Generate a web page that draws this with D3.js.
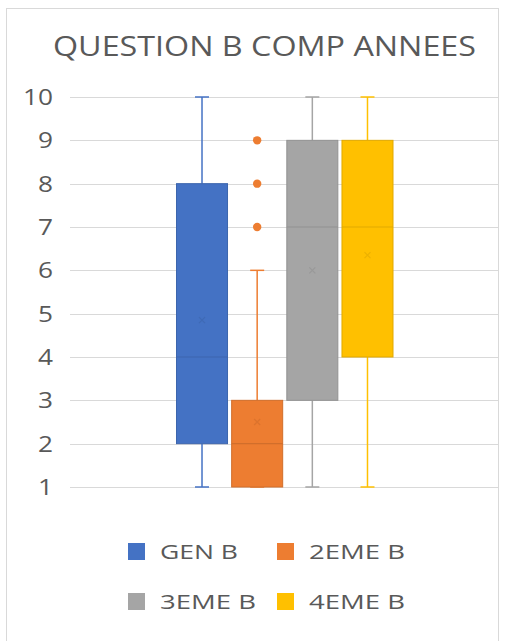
<!DOCTYPE html>
<html><head><meta charset="utf-8">
<script src="https://cdn.jsdelivr.net/npm/d3@7"></script>
<style>body{margin:0;background:#fff}svg{display:block}</style>
</head><body>
<script>
const series = ["GEN B", "2EME B", "3EME B", "4EME B"];
const colors = ["#4472C4", "#ED7D31", "#A5A5A5", "#FFC000"];
const mins = [1, 1, 1, 1];
const q1s = [2, 1, 3, 4];
const medians = [4, 2, 7, 7];
const q3s = [8, 3, 9, 9];
const maxs = [10, 6, 10, 10];
const means = [4.85, 2.5, 6.0, 6.35];
const outliers = [[], [7, 8, 9], [], []];
const yTicks = [1, 2, 3, 4, 5, 6, 7, 8, 9, 10];
const title = "QUESTION B COMP ANNEES";

const W = 512, H = 641;
const svg = d3.select("body").append("svg").attr("width", W).attr("height", H);
const font = "'Open Sans', 'Noto Sans', sans-serif";
const txt = "#595959";

// frame
svg.append("rect").attr("x", 6.5).attr("y", 8.5).attr("width", 492).attr("height", 640)
  .attr("fill", "#fff").attr("stroke", "#d9d9d9").attr("stroke-width", 1);

svg.append("text").attr("x", 53).attr("y", 56)
  .attr("font-family", font).attr("font-size", 28).attr("fill", txt)
  .attr("textLength", 423).attr("lengthAdjust", "spacingAndGlyphs").text(title);

const plot = {left: 70, right: 498, top: 97, bottom: 487};
const y = d3.scaleLinear().domain([1, 10]).range([plot.bottom, plot.top]);
const x = d3.scaleBand().domain(series).range([176.5, 393]).paddingInner(0.075).paddingOuter(0);

// gridlines
svg.append("g").selectAll("line").data(yTicks).join("line")
  .attr("x1", plot.left).attr("x2", plot.right)
  .attr("y1", d => Math.round(y(d)) + 0.5).attr("y2", d => Math.round(y(d)) + 0.5)
  .attr("stroke", "#d9d9d9").attr("stroke-width", 1);

// y axis labels
const yAxis = d3.axisLeft(y).tickValues(yTicks).tickSize(0).tickPadding(0).tickFormat(d3.format("d"));
const gy = svg.append("g").attr("transform", `translate(53,0)`).call(yAxis);
gy.select(".domain").remove();
gy.selectAll("text").attr("font-family", font).attr("font-size", 21).attr("fill", txt).attr("dy", "0.36em")
  .attr("textLength", d => String(d).length * 15).attr("lengthAdjust", "spacingAndGlyphs");

// boxes
const bw = x.bandwidth();
series.forEach((s, i) => {
  const g = svg.append("g");
  const cx = x(s) + bw / 2;
  const c = colors[i];
  const dark = d3.color(c).darker(0.35).formatHex();
  g.append("line").attr("x1", cx).attr("x2", cx).attr("y1", y(maxs[i])).attr("y2", y(q3s[i]))
    .attr("stroke", c).attr("stroke-width", 1.5);
  g.append("line").attr("x1", cx).attr("x2", cx).attr("y1", y(q1s[i])).attr("y2", y(mins[i]))
    .attr("stroke", c).attr("stroke-width", 1.5);
  [maxs[i], mins[i]].forEach(v => {
    g.append("line").attr("x1", cx - 7).attr("x2", cx + 7).attr("y1", y(v)).attr("y2", y(v))
      .attr("stroke", c).attr("stroke-width", 1.5);
  });
  g.append("rect").attr("x", x(s)).attr("width", bw)
    .attr("y", y(q3s[i])).attr("height", y(q1s[i]) - y(q3s[i]))
    .attr("fill", c).attr("stroke", dark).attr("stroke-width", 1);
  g.append("line").attr("x1", x(s)).attr("x2", x(s) + bw)
    .attr("y1", y(medians[i])).attr("y2", y(medians[i]))
    .attr("stroke", dark).attr("stroke-width", 1.2);
  const m = y(means[i]);
  g.append("path").attr("d", `M${cx-3},${m-3}L${cx+3},${m+3}M${cx-3},${m+3}L${cx+3},${m-3}`)
    .attr("stroke", dark).attr("stroke-width", 1.2).attr("opacity", 0.6);
  g.selectAll("circle").data(outliers[i]).join("circle")
    .attr("cx", cx).attr("cy", d => y(d)).attr("r", 4.2).attr("fill", c);
});

// legend
const legX = [128, 277], legY = [552, 602];
series.forEach((s, i) => {
  const lx = legX[i % 2], ly = legY[Math.floor(i / 2)];
  svg.append("rect").attr("x", lx).attr("y", ly - 9).attr("width", 17).attr("height", 17).attr("fill", colors[i]);
  svg.append("text").attr("x", lx + 32).attr("y", ly).attr("dy", "0.36em")
    .attr("font-family", font).attr("font-size", 20).attr("fill", txt)
    .attr("textLength", s.length === 5 ? 78 : 96).attr("lengthAdjust", "spacingAndGlyphs").text(s);
});
</script>
</body></html>
